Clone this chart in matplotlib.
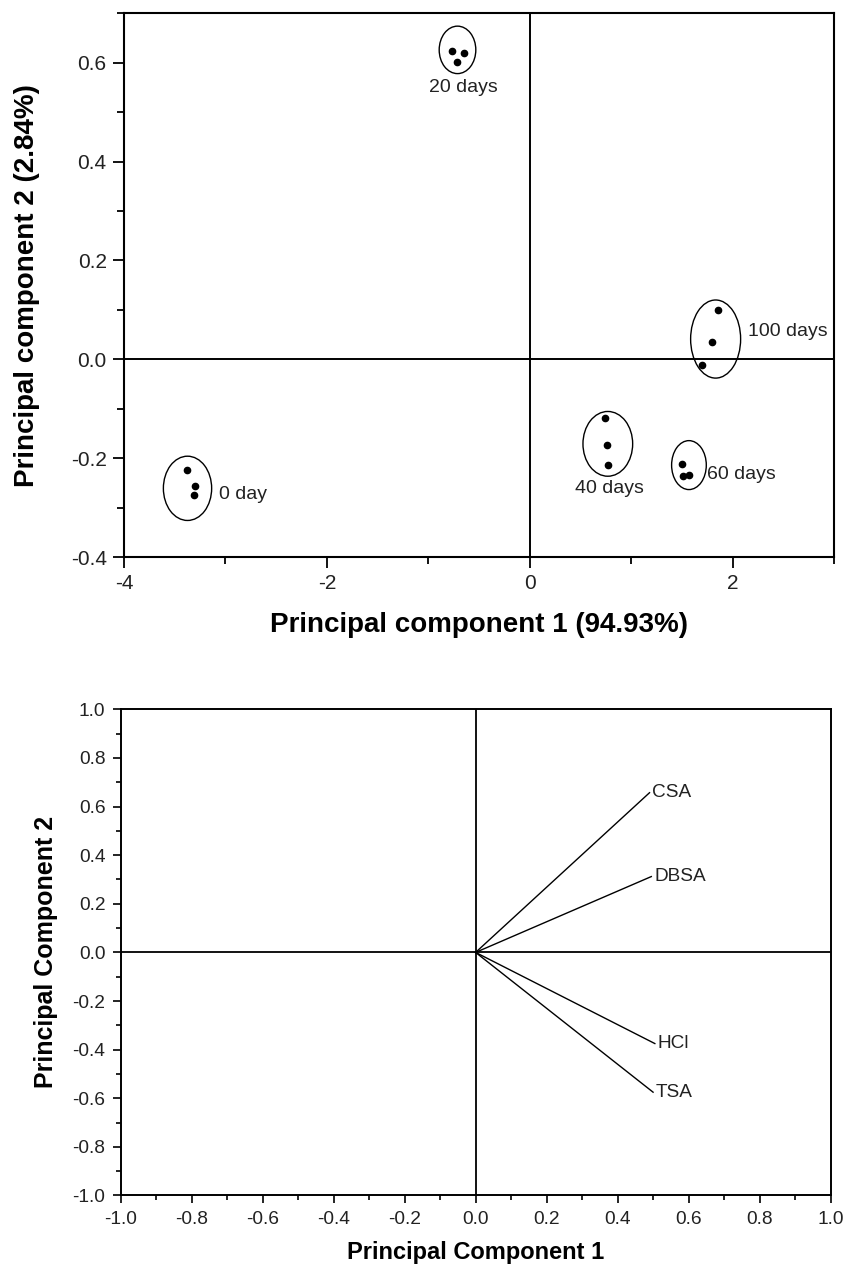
import matplotlib.pyplot as plt
from matplotlib.patches import Ellipse
from matplotlib.ticker import MultipleLocator

plt.rcParams['font.family'] = ['Liberation Sans', 'DejaVu Sans']

# score plot: three replicates per storage time
GROUPS = ['0 day', '20 days', '40 days', '60 days', '100 days']
PC1_SCORES = [
    [-3.38, -3.30, -3.31],
    [-0.77, -0.65, -0.72],
    [0.74, 0.76, 0.77],
    [1.50, 1.51, 1.57],
    [1.86, 1.80, 1.70],
]
PC2_SCORES = [
    [-0.224, -0.257, -0.275],
    [0.624, 0.619, 0.601],
    [-0.118, -0.173, -0.214],
    [-0.211, -0.236, -0.234],
    [0.100, 0.035, -0.011],
]
# ellipse centre / size around each group (data units)
ELL_X = [-3.374, -0.712, 0.770, 1.570, 1.833]
ELL_Y = [-0.261, 0.626, -0.171, -0.214, 0.041]
ELL_W = [0.476, 0.361, 0.490, 0.342, 0.493]
ELL_H = [0.130, 0.096, 0.131, 0.099, 0.158]
LABEL_X = [-3.06, -0.65, 0.79, 1.745, 2.15]
LABEL_Y = [-0.273, 0.550, -0.262, -0.233, 0.057]
LABEL_HA = ['left', 'center', 'center', 'left', 'left']

# loading plot
ACIDS = ['CSA', 'DBSA', 'HCl', 'TSA']
LOAD_PC1 = [0.49, 0.495, 0.505, 0.50]
LOAD_PC2 = [0.657, 0.312, -0.375, -0.575]

fig = plt.figure(figsize=(8.46, 12.66), dpi=100)

# ---- top: scores ----
ax1 = fig.add_axes([0.1466, 0.5600, 0.8392, 0.4295])
ax1.set_xlim(-4, 3)
ax1.set_ylim(-0.4, 0.7)
ax1.axhline(0, color='black', lw=1.4)
ax1.axvline(0, color='black', lw=1.4)
for i, name in enumerate(GROUPS):
    ax1.plot(PC1_SCORES[i], PC2_SCORES[i], 'o', color='black', ms=4.5)
    ax1.add_patch(Ellipse((ELL_X[i], ELL_Y[i]), ELL_W[i], ELL_H[i],
                          fill=False, ec='black', lw=1.0))
    ax1.text(LABEL_X[i], LABEL_Y[i], name, ha=LABEL_HA[i], va='center',
             fontsize=14, color='#222222')
ax1.xaxis.set_minor_locator(MultipleLocator(1))
ax1.yaxis.set_minor_locator(MultipleLocator(0.1))
ax1.set_yticks([-0.4, -0.2, 0.0, 0.2, 0.4, 0.6])
ax1.set_yticklabels(['-0.4', '-0.2', '0.0', '0.2', '0.4', '0.6'])
ax1.set_xticks([-4, -2, 0, 2])
ax1.set_xticklabels(['-4', '-2', '0', '2'])
ax1.tick_params(which='major', direction='out', length=8, width=1.3,
                labelsize=15, pad=4.5, colors='black', labelcolor='#222222')
ax1.tick_params(which='minor', direction='out', length=5, width=1.3)
for s in ax1.spines.values():
    s.set_linewidth(1.5)
ax1.set_xlabel('Principal component 1 (94.93%)', fontsize=20, fontweight='bold')
ax1.set_ylabel('Principal component 2 (2.84%)', fontsize=20, fontweight='bold')
ax1.xaxis.set_label_coords(0.5, -0.125)
ax1.xaxis.label.set_verticalalignment('center')
ax1.yaxis.set_label_coords(-0.137, 0.5)
ax1.yaxis.label.set_verticalalignment('center')

# ---- bottom: loadings ----
ax2 = fig.add_axes([0.1427, 0.0557, 0.8390, 0.3840])
ax2.set_xlim(-1, 1)
ax2.set_ylim(-1, 1)
ax2.axhline(0, color='black', lw=1.3)
ax2.axvline(0, color='black', lw=1.3)
for name, px, py in zip(ACIDS, LOAD_PC1, LOAD_PC2):
    ax2.plot([0, px], [0, py], color='black', lw=1.0)
    ax2.text(px + 0.008, py, name, ha='left', va='center', fontsize=13.7,
             color='#222222')
ax2.xaxis.set_major_locator(MultipleLocator(0.2))
ax2.xaxis.set_minor_locator(MultipleLocator(0.1))
ax2.yaxis.set_major_locator(MultipleLocator(0.2))
ax2.yaxis.set_minor_locator(MultipleLocator(0.1))
ax2.xaxis.set_major_formatter(lambda v, p: f'{v:.1f}')
ax2.yaxis.set_major_formatter(lambda v, p: f'{v:.1f}')
ax2.tick_params(which='major', direction='out', length=6, width=1.2,
                labelsize=13.8, pad=5.0, colors='black', labelcolor='#222222')
ax2.tick_params(which='minor', direction='out', length=3.5, width=1.2)
for s in ax2.spines.values():
    s.set_linewidth(1.4)
ax2.set_xlabel('Principal Component 1', fontsize=17, fontweight='bold')
ax2.set_ylabel('Principal Component 2', fontsize=18, fontweight='bold')
ax2.xaxis.set_label_coords(0.5, -0.118)
ax2.xaxis.label.set_verticalalignment('center')
ax2.yaxis.set_label_coords(-0.105, 0.5)
ax2.yaxis.label.set_verticalalignment('center')

fig.savefig('out.png', dpi=100)
